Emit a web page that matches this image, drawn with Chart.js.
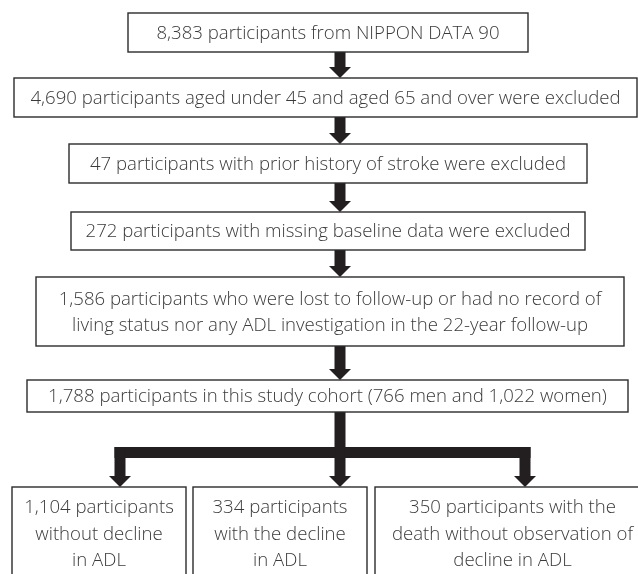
<!DOCTYPE html>
<html>
<head>
<meta charset="utf-8">
<script src="https://cdn.jsdelivr.net/npm/chart.js@4/dist/chart.umd.min.js"></script>
<style>
  html, body { margin: 0; padding: 0; background: #ffffff; }
  #wrap { width: 638px; height: 574px; position: relative; }
</style>
</head>
<body>
<div id="wrap"><canvas id="c"></canvas></div>
<script>
// ---- data ----
const stageCounts = [8383, 4690, 47, 272, 1586, 1788];
const cohortMen = 766;
const cohortWomen = 1022;
const stageLines = [
  ["{n} participants from NIPPON DATA 90"],
  ["{n} participants aged under 45 and aged 65 and over were excluded"],
  ["{n} participants with prior history of stroke were excluded"],
  ["{n} participants with missing baseline data were excluded"],
  ["{n} participants who were lost to follow-up or had no record of",
   "living status nor any ADL investigation in the 22-year follow-up"],
  ["{n} participants in this study cohort ({m} men and {w} women)"]
];
const outcomeCounts = [1104, 334, 350];
const outcomeLines = [
  ["{n} participants", "without decline", "in ADL"],
  ["{n} participants", "with the decline", "in ADL"],
  ["{n} participants with the", "death without observation of", "decline in ADL"]
];

// ---- layout (positions, in axis units) ----
const stageBoxes = [
  {x0: 128, x1: 528, y0: 13,  y1: 52},
  {x0: 14,  x1: 637, y0: 78,  y1: 117},
  {x0: 69,  x1: 587, y0: 144, y1: 183},
  {x0: 71,  x1: 585, y0: 212, y1: 250},
  {x0: 36,  x1: 624, y0: 277, y1: 346},
  {x0: 27,  x1: 628, y0: 380, y1: 412}
];
const outcomeBoxes = [
  {x0: 12,  x1: 186, y0: 487, y1: 600},
  {x0: 193, x1: 367, y0: 487, y1: 600},
  {x0: 375, x1: 650, y0: 487, y1: 600}
];
const trunkX = 340, branchY = 452.5, branchXs = [120, 340, 525];
const shaftW = 11, headW = 22, headL = 11, lineGap = 26.5;
const textColor = '#3a3a3a', lineColor = '#2b2b2b', arrowColor = '#231f20';
const FONT = '300 18.6px "Open Sans", "Noto Sans", sans-serif';

const fmt = v => v.toLocaleString('en-US');
function fill(s, n) {
  return s.replace('{n}', fmt(n)).replace('{m}', fmt(cohortMen)).replace('{w}', fmt(cohortWomen));
}

const flowPlugin = {
  id: 'flow',
  afterDraw(chart) {
    const ctx = chart.ctx, xs = chart.scales.x, ys = chart.scales.y;
    const X = v => xs.getPixelForValue(v), Y = v => ys.getPixelForValue(v);
    ctx.save();
    // arrows
    ctx.fillStyle = arrowColor;
    function down(cx, yStart, yTip) {
      const a = X(cx - shaftW / 2), b = X(cx + shaftW / 2);
      ctx.fillRect(a, Y(yStart), b - a, Y(yTip - headL) - Y(yStart));
      ctx.beginPath();
      ctx.moveTo(X(cx - headW / 2), Y(yTip - headL));
      ctx.lineTo(X(cx + headW / 2), Y(yTip - headL));
      ctx.lineTo(X(cx), Y(yTip));
      ctx.closePath();
      ctx.fill();
    }
    for (let i = 0; i < stageBoxes.length - 1; i++) {
      down(trunkX, stageBoxes[i].y1, stageBoxes[i + 1].y0);
    }
    // branch
    const last = stageBoxes[stageBoxes.length - 1];
    const l = branchXs[0] - shaftW / 2, r = branchXs[2] + shaftW / 2;
    ctx.fillRect(X(l), Y(branchY - shaftW / 2), X(r) - X(l), Y(branchY + shaftW / 2) - Y(branchY - shaftW / 2));
    down(trunkX, last.y1, outcomeBoxes[1].y0);
    down(branchXs[0], branchY - shaftW / 2, outcomeBoxes[0].y0);
    down(branchXs[2], branchY - shaftW / 2, outcomeBoxes[2].y0);

    // boxes + text
    ctx.strokeStyle = lineColor;
    ctx.lineWidth = 1.4;
    ctx.font = FONT;
    ctx.fillStyle = textColor;
    ctx.textAlign = 'center';
    ctx.textBaseline = 'middle';
    function box(bx, lines, n, topAlign) {
      ctx.fillStyle = '#ffffff';
      ctx.fillRect(X(bx.x0), Y(bx.y0), X(bx.x1) - X(bx.x0), Y(bx.y1) - Y(bx.y0));
      ctx.strokeRect(X(bx.x0), Y(bx.y0), X(bx.x1) - X(bx.x0), Y(bx.y1) - Y(bx.y0));
      ctx.fillStyle = textColor;
      const cx = (bx.x0 + bx.x1) / 2;
      const cy = topAlign ? bx.y0 + 20 + (lines.length - 1) * lineGap / 2 : (bx.y0 + bx.y1) / 2;
      lines.forEach((s, k) => {
        const yy = cy + (k - (lines.length - 1) / 2) * lineGap;
        ctx.fillText(fill(s, n), X(cx), Y(yy + 1), X(bx.x1) - X(bx.x0) - 6);
      });
    }
    stageBoxes.forEach((bx, i) => box(bx, stageLines[i], stageCounts[i], false));
    outcomeBoxes.forEach((bx, i) => box(bx, outcomeLines[i], outcomeCounts[i], true));
    ctx.restore();
  }
};

new Chart(document.getElementById('c'), {
  type: 'scatter',
  data: { datasets: [{ data: [], pointRadius: 0 }] },
  options: {
    responsive: true,
    maintainAspectRatio: false,
    animation: false,
    layout: { padding: 0 },
    plugins: { legend: { display: false }, tooltip: { enabled: false } },
    scales: {
      x: { type: 'linear', min: 0, max: 638, display: false },
      y: { type: 'linear', min: 0, max: 574, reverse: true, display: false }
    }
  },
  plugins: [flowPlugin]
});
</script>
</body>
</html>
